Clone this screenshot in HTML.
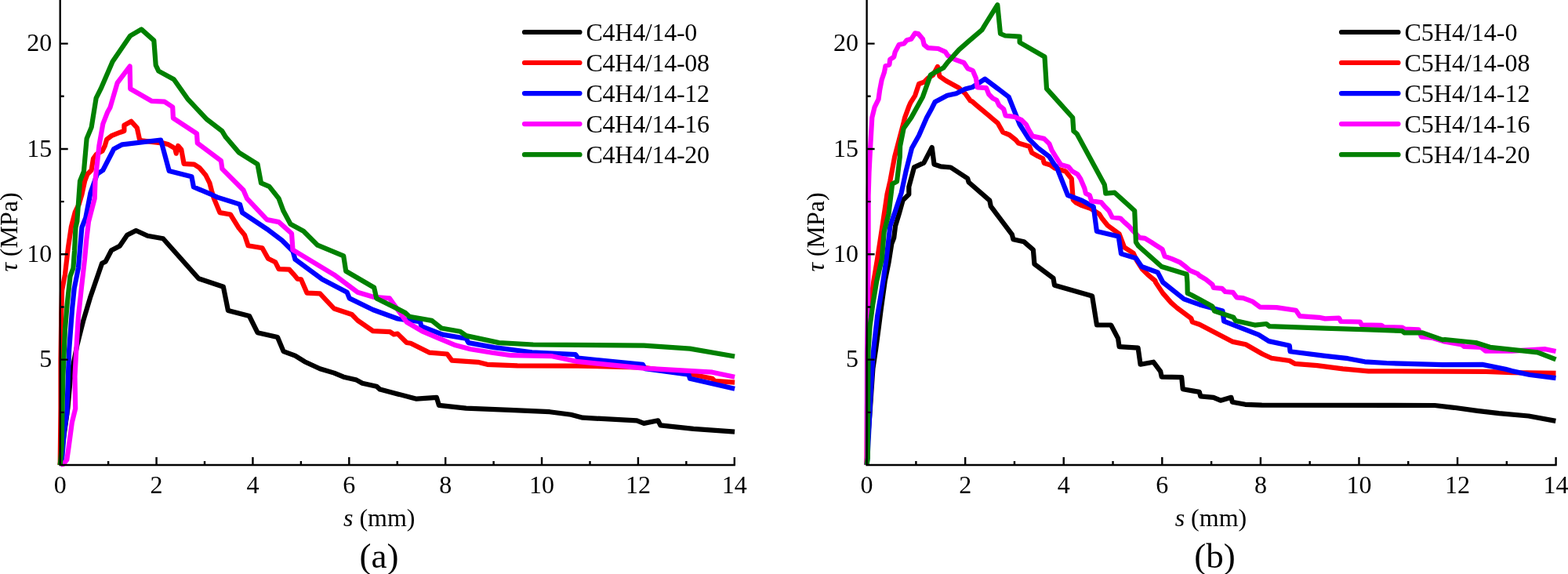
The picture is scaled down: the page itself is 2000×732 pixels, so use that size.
<!DOCTYPE html>
<html><head><meta charset="utf-8"><title>Bond stress-slip curves</title>
<style>
html,body{margin:0;padding:0;background:#fff;}
body{width:2000px;height:732px;overflow:hidden;}
svg{display:block;}
.t{font-family:'Liberation Serif','Times New Roman',serif;font-size:32px;fill:#000;}
.p{font-family:'Liberation Serif','Times New Roman',serif;font-size:45px;fill:#000;}
</style></head>
<body>
<svg width="2000" height="732" viewBox="0 0 2000 732">
<rect width="2000" height="732" fill="#fff"/>
<polyline points="76.7,593.0 80.9,560.0 86.5,520.0 89.7,483.7 98.4,440.0 106.1,409.4 115.1,379.3 130.1,335.7 134.6,333.6 142.1,319.2 152.7,313.8 162.2,299.8 173.5,294.0 188.3,300.8 208.0,304.2 253.4,355.3 284.9,365.8 290.9,395.9 318.0,403.0 328.5,424.2 354.0,430.0 361.6,448.1 376.5,453.6 388.6,461.2 408.1,470.2 426.1,475.6 438.2,480.7 454.7,484.6 462.2,488.8 480.2,492.7 484.7,496.6 504.3,501.7 531.3,508.7 556.9,506.9 559.9,516.8 594.5,520.7 650.0,522.8 701.1,525.2 728.2,528.8 743.2,532.7 812.3,536.3 821.3,539.9 839.4,536.3 842.4,542.3 884.5,546.8 937.1,550.7" fill="none" stroke="#000000" stroke-width="6.2" stroke-linejoin="round" stroke-linecap="butt"/>
<polyline points="76.7,593.0 77.5,520.0 77.5,460.0 78.3,400.0 79.1,370.5 83.0,349.7 86.9,316.0 90.9,289.0 95.8,270.3 100.7,260.5 104.4,248.2 108.1,231.0 111.6,222.0 116.6,217.0 119.0,202.3 123.1,196.6 130.5,192.5 133.8,185.9 136.2,177.7 142.8,172.8 153.4,168.7 158.4,167.0 158.4,159.7 167.4,154.8 174.8,163.0 178.0,177.7 180.5,179.3 208.4,182.6 214.9,184.3 223.1,189.2 224.8,195.7 227.2,185.9 231.3,190.8 234.6,208.9 247.7,209.7 254.3,213.8 262.5,223.6 267.4,233.4 270.0,243.3 272.9,253.1 280.4,271.1 293.9,273.5 304.5,290.6 312.0,299.7 316.5,313.2 334.5,316.2 342.0,329.7 351.1,334.2 355.6,343.2 369.0,343.7 375.0,350.3 379.5,355.7 384.0,356.3 391.6,373.7 408.1,374.3 426.1,393.5 448.7,401.0 456.2,408.6 475.7,422.1 497.4,423.1 502.3,426.4 507.2,425.6 518.7,437.0 523.8,437.7 547.9,449.7 570.4,451.5 576.4,459.7 609.5,461.8 621.5,464.8 660.0,466.3 737.2,466.6 821.3,468.7 878.5,476.8 908.5,482.8 911.5,485.8 937.1,487.6" fill="none" stroke="#FF0000" stroke-width="6.2" stroke-linejoin="round" stroke-linecap="butt"/>
<polyline points="76.7,593.0 78.7,590.8 82.0,549.3 85.3,527.4 86.9,480.0 88.2,445.8 92.1,393.9 94.7,368.0 99.9,342.0 104.4,290.0 109.3,277.7 115.5,245.7 123.9,222.0 131.3,217.0 145.2,190.0 155.9,184.3 205.1,178.5 215.7,217.9 244.4,225.2 246.9,238.4 270.0,248.2 277.4,251.6 306.0,260.6 309.0,271.1 340.5,292.1 360.0,306.7 373.5,320.2 376.5,330.8 411.1,356.3 442.7,372.8 445.7,380.4 475.7,395.0 507.3,406.5 535.9,410.1 537.4,416.1 564.4,426.6 594.5,431.7 597.5,437.1 630.5,443.1 678.5,449.3 734.2,452.1 737.2,456.7 819.8,464.8 822.8,470.2 878.5,477.7 880.0,482.8 937.1,495.7" fill="none" stroke="#0000FF" stroke-width="6.2" stroke-linejoin="round" stroke-linecap="butt"/>
<polyline points="77.5,592.4 80.9,591.9 85.3,586.4 87.5,571.1 91.9,538.4 96.2,520.9 95.5,480.0 97.3,445.8 99.9,404.3 103.8,367.9 108.0,331.0 110.3,305.6 113.0,282.6 120.7,253.1 121.5,230.2 123.9,208.9 126.4,185.9 131.3,158.0 137.0,143.3 140.5,137.0 149.7,105.7 165.6,84.6 166.2,113.2 193.2,128.8 209.8,129.7 220.2,136.5 220.9,150.7 251.0,170.3 251.8,182.6 281.9,204.9 283.4,215.4 310.5,242.5 315.0,253.1 340.5,280.1 355.6,283.1 372.0,297.7 373.5,318.7 426.1,350.3 456.2,372.8 477.2,378.9 496.8,380.4 518.7,410.8 538.4,422.3 561.3,432.1 581.0,440.3 600.0,445.2 627.5,449.7 652.0,453.2 704.1,454.2 737.2,461.2 821.3,469.6 908.5,474.7 937.1,480.7" fill="none" stroke="#FF00FF" stroke-width="6.2" stroke-linejoin="round" stroke-linecap="butt"/>
<polyline points="76.7,593.0 78.7,571.0 79.8,505.6 80.4,480.0 83.0,419.9 85.6,388.7 89.5,352.3 93.4,342.0 95.0,320.0 96.5,290.0 98.3,282.6 102.0,231.0 106.9,218.7 110.6,176.9 116.7,162.1 122.6,125.2 128.6,113.2 143.6,78.6 166.2,45.6 180.3,37.4 196.3,51.6 198.7,83.1 202.3,90.6 221.8,101.2 239.8,126.7 263.9,152.3 283.4,167.3 287.9,174.8 304.5,194.3 328.5,209.4 333.0,233.4 343.5,237.9 355.6,253.1 361.5,269.1 370.5,285.7 387.1,294.7 405.1,312.7 438.2,326.3 441.2,345.8 477.2,366.8 480.2,380.4 516.3,398.4 522.3,403.8 550.9,408.9 562.9,418.5 587.0,422.7 594.5,428.1 636.6,437.1 680.1,439.5 821.3,440.7 880.0,444.6 937.1,454.5" fill="none" stroke="#008000" stroke-width="6.2" stroke-linejoin="round" stroke-linecap="butt"/>
<path d="M76.7,0 V594.2 M75.5,593.0 H937.9 M138.14,593.0 V588.0 M199.57,593.0 V583.0 M261.01,593.0 V588.0 M322.44,593.0 V583.0 M383.88,593.0 V588.0 M445.31,593.0 V583.0 M506.75,593.0 V588.0 M568.19,593.0 V583.0 M629.62,593.0 V588.0 M691.06,593.0 V583.0 M752.49,593.0 V588.0 M813.93,593.0 V583.0 M875.36,593.0 V588.0 M936.80,593.0 V583.0 M76.7,525.83 H81.7 M76.7,458.65 H86.7 M76.7,391.48 H81.7 M76.7,324.30 H86.7 M76.7,257.12 H81.7 M76.7,189.95 H86.7 M76.7,122.77 H81.7 M76.7,55.60 H86.7" fill="none" stroke="#000" stroke-width="2.4"/>
<text x="76.7" y="629" text-anchor="middle" class="t">0</text>
<text x="199.6" y="629" text-anchor="middle" class="t">2</text>
<text x="322.4" y="629" text-anchor="middle" class="t">4</text>
<text x="445.3" y="629" text-anchor="middle" class="t">6</text>
<text x="568.2" y="629" text-anchor="middle" class="t">8</text>
<text x="691.1" y="629" text-anchor="middle" class="t">10</text>
<text x="813.9" y="629" text-anchor="middle" class="t">12</text>
<text x="936.8" y="629" text-anchor="middle" class="t">14</text>
<text x="66.2" y="468.2" text-anchor="end" class="t">5</text>
<text x="66.2" y="333.9" text-anchor="end" class="t">10</text>
<text x="66.2" y="199.5" text-anchor="end" class="t">15</text>
<text x="66.2" y="65.2" text-anchor="end" class="t">20</text>
<text x="483.7" y="671" text-anchor="middle" class="t"><tspan font-style="italic">s</tspan> (mm)</text>
<text transform="translate(22.2,296) rotate(-90)" text-anchor="middle" class="t"><tspan font-style="italic">τ</tspan> (MPa)</text>
<text x="483.4" y="723.5" text-anchor="middle" class="p">(a)</text>
<line x1="669" y1="41.0" x2="739.5" y2="41.0" stroke="#000000" stroke-width="6.2" stroke-linecap="round"/>
<text x="747.5" y="52.2" class="t" letter-spacing="-0.27">C4H4/14-0</text>
<line x1="669" y1="80.0" x2="739.5" y2="80.0" stroke="#FF0000" stroke-width="6.2" stroke-linecap="round"/>
<text x="747.5" y="91.2" class="t" letter-spacing="-0.27">C4H4/14-08</text>
<line x1="669" y1="119.1" x2="739.5" y2="119.1" stroke="#0000FF" stroke-width="6.2" stroke-linecap="round"/>
<text x="747.5" y="130.3" class="t" letter-spacing="-0.27">C4H4/14-12</text>
<line x1="669" y1="158.1" x2="739.5" y2="158.1" stroke="#FF00FF" stroke-width="6.2" stroke-linecap="round"/>
<text x="747.5" y="169.3" class="t" letter-spacing="-0.27">C4H4/14-16</text>
<line x1="669" y1="197.2" x2="739.5" y2="197.2" stroke="#008000" stroke-width="6.2" stroke-linecap="round"/>
<text x="747.5" y="208.4" class="t" letter-spacing="-0.27">C4H4/14-20</text>
<polyline points="1105.6,593.0 1107.0,560.0 1110.0,520.0 1113.4,470.0 1117.2,444.7 1121.0,416.0 1123.9,393.1 1128.7,358.7 1133.5,335.0 1137.3,310.9 1140.2,303.3 1142.1,288.0 1146.8,272.7 1151.6,255.4 1159.3,247.8 1159.3,238.2 1166.0,213.4 1178.4,207.6 1188.7,187.9 1191.5,209.5 1200.0,212.4 1212.7,213.5 1234.1,227.5 1235.7,232.5 1262.3,255.6 1263.8,263.1 1290.9,299.2 1292.4,305.2 1305.9,308.2 1317.9,318.7 1319.4,336.8 1343.5,354.8 1345.0,363.8 1393.1,377.4 1399.0,414.5 1417.1,414.5 1426.1,431.6 1427.6,442.1 1451.6,443.6 1454.6,464.7 1471.2,461.7 1480.2,473.7 1481.7,480.6 1507.2,481.2 1508.7,496.3 1529.8,499.9 1531.3,505.3 1547.8,506.8 1556.8,510.7 1570.4,506.8 1571.9,512.8 1588.4,515.8 1609.4,516.7 1830.0,517.0 1854.6,519.8 1884.1,523.9 1912.0,527.2 1949.7,530.5 1984.3,536.9" fill="none" stroke="#000000" stroke-width="6.2" stroke-linejoin="round" stroke-linecap="butt"/>
<polyline points="1105.6,593.0 1106.0,520.0 1107.6,416.0 1110.5,387.4 1114.3,358.7 1119.1,330.0 1125.8,286.0 1131.5,247.8 1135.4,230.6 1141.1,200.0 1145.1,184.9 1152.6,156.3 1154.1,150.0 1159.0,136.6 1161.5,130.8 1167.2,121.8 1172.1,107.0 1178.7,104.6 1183.6,99.7 1190.2,95.6 1195.9,84.9 1198.4,97.2 1206.6,103.0 1223.0,112.0 1231.1,119.3 1237.7,128.4 1240.0,129.3 1245.7,134.3 1261.3,147.4 1272.8,157.2 1279.3,168.7 1287.5,172.0 1295.7,178.5 1299.0,182.6 1313.0,186.7 1316.2,194.9 1323.6,199.0 1330.2,202.3 1331.8,208.0 1338.4,210.0 1340.0,210.7 1345.7,214.6 1359.1,218.4 1366.8,228.0 1368.7,254.7 1372.5,258.5 1380.0,262.1 1391.5,266.2 1402.1,272.8 1406.2,279.3 1412.8,287.5 1427.5,298.2 1434.1,315.4 1445.6,322.8 1449.7,331.8 1457.0,343.3 1463.6,349.8 1473.4,358.0 1474.2,360.4 1483.2,373.9 1493.7,385.9 1501.2,392.5 1519.3,406.1 1520.8,410.6 1530.0,413.8 1572.6,435.9 1589.0,439.2 1610.3,451.5 1621.8,456.7 1644.8,460.0 1651.5,463.8 1680.0,466.2 1712.8,470.3 1745.6,473.3 1840.0,473.6 1895.6,473.9 1928.4,475.2 1984.5,475.9" fill="none" stroke="#FF0000" stroke-width="6.2" stroke-linejoin="round" stroke-linecap="butt"/>
<polyline points="1105.6,593.0 1106.5,584.0 1110.3,507.8 1112.5,470.0 1114.3,445.0 1119.1,402.7 1124.9,368.2 1130.6,330.0 1135.4,288.0 1142.1,268.8 1149.7,245.9 1155.4,219.1 1160.2,200.0 1163.0,189.0 1172.1,172.8 1182.0,150.0 1188.5,138.2 1192.6,130.0 1208.2,121.8 1219.7,119.3 1231.1,113.6 1240.0,111.3 1256.4,100.7 1286.7,123.6 1300.7,158.9 1312.1,176.9 1323.6,188.4 1338.4,199.8 1344.9,210.0 1347.6,212.7 1362.0,249.0 1380.0,255.6 1394.8,263.8 1398.9,294.9 1426.7,301.5 1430.0,323.6 1448.9,329.3 1456.2,340.0 1476.7,347.4 1483.3,360.0 1510.2,381.4 1530.0,388.4 1559.5,396.6 1561.1,409.7 1605.4,426.9 1618.5,435.1 1644.8,440.8 1645.6,448.2 1690.0,453.9 1719.3,457.2 1740.7,461.3 1768.5,463.0 1840.0,465.1 1890.7,464.9 1920.2,470.7 1928.4,473.1 1951.3,478.0 1984.5,482.1" fill="none" stroke="#0000FF" stroke-width="6.2" stroke-linejoin="round" stroke-linecap="butt"/>
<polyline points="1105.6,593.0 1106.0,450.0 1107.6,340.0 1107.6,250.0 1108.5,220.0 1110.0,190.0 1112.3,150.0 1115.6,136.6 1120.5,126.7 1122.1,115.2 1124.6,102.1 1127.9,92.3 1129.5,84.1 1134.4,82.5 1135.2,75.9 1140.2,72.6 1141.8,66.1 1146.7,57.0 1153.3,55.4 1156.6,51.3 1162.3,49.7 1167.2,42.3 1171.3,43.1 1177.0,49.7 1178.7,57.0 1183.6,61.1 1196.7,62.0 1205.7,66.1 1209.0,71.0 1218.0,75.9 1229.5,80.0 1234.4,87.4 1240.8,90.0 1244.9,99.8 1246.6,111.3 1258.0,112.1 1261.3,120.3 1266.2,125.2 1271.1,127.7 1274.4,134.3 1280.2,139.2 1282.6,147.4 1294.1,149.0 1303.1,153.1 1308.9,158.9 1312.1,165.4 1317.0,173.6 1331.8,176.9 1338.4,183.4 1341.6,191.6 1346.6,199.8 1353.1,210.0 1362.9,212.7 1367.7,218.4 1374.4,222.2 1378.2,228.0 1383.3,240.0 1384.9,246.6 1389.8,249.0 1392.3,256.4 1404.6,258.0 1408.7,263.0 1414.4,268.7 1418.5,276.9 1429.2,278.5 1434.1,283.4 1440.7,289.2 1445.6,294.9 1453.8,303.1 1460.3,303.9 1468.5,308.9 1473.4,312.1 1482.5,317.9 1485.7,326.9 1494.8,330.2 1504.6,334.3 1511.1,339.2 1517.7,344.9 1527.5,349.0 1530.0,351.5 1538.2,356.4 1546.4,363.0 1548.0,367.0 1558.7,367.9 1562.8,372.0 1572.6,372.8 1577.5,379.3 1585.7,380.2 1597.2,384.3 1607.0,391.6 1628.4,392.1 1653.0,395.7 1657.9,403.1 1682.5,404.8 1690.0,406.4 1707.9,405.6 1710.3,410.0 1734.9,410.5 1736.6,414.3 1762.0,414.9 1765.2,417.0 1788.2,417.5 1791.5,419.5 1809.5,420.3 1812.8,429.3 1827.5,431.0 1841.5,435.4 1864.4,439.5 1867.7,442.0 1889.0,442.8 1894.8,447.7 1928.4,447.7 1971.0,445.2 1984.5,448.0" fill="none" stroke="#FF00FF" stroke-width="6.2" stroke-linejoin="round" stroke-linecap="butt"/>
<polyline points="1105.6,593.0 1106.8,584.0 1107.4,460.0 1107.6,444.7 1109.6,416.0 1113.4,387.4 1118.2,358.7 1124.9,330.0 1127.7,295.6 1133.5,272.7 1138.2,234.4 1144.0,231.5 1147.8,200.0 1148.1,186.4 1152.6,163.8 1162.3,150.0 1177.0,123.4 1186.9,95.6 1191.0,93.1 1203.3,86.6 1209.0,79.2 1223.0,63.6 1236.1,52.1 1252.5,38.2 1257.4,30.0 1272.3,6.2 1276.0,43.0 1282.1,45.5 1300.6,46.7 1300.6,54.1 1332.5,72.5 1335.0,113.1 1368.2,150.0 1369.4,167.2 1373.5,170.6 1408.8,235.6 1409.5,240.0 1410.3,246.6 1421.8,245.7 1447.2,268.7 1448.9,308.9 1452.1,313.8 1481.6,340.0 1513.6,349.8 1514.4,360.0 1514.7,373.9 1519.3,376.0 1530.0,381.8 1546.4,390.8 1548.9,396.6 1573.4,404.8 1575.9,408.9 1600.5,414.6 1615.2,413.0 1619.3,416.2 1690.0,418.7 1745.6,420.3 1788.2,422.0 1791.5,424.4 1814.4,424.4 1840.0,433.4 1843.1,433.0 1882.5,437.0 1900.5,442.8 1961.1,449.3 1984.5,458.4" fill="none" stroke="#008000" stroke-width="6.2" stroke-linejoin="round" stroke-linecap="butt"/>
<path d="M1105.6,0 V594.2 M1104.4,593.0 H1985.7 M1168.39,593.0 V588.0 M1231.17,593.0 V583.0 M1293.96,593.0 V588.0 M1356.74,593.0 V583.0 M1419.53,593.0 V588.0 M1482.31,593.0 V583.0 M1545.10,593.0 V588.0 M1607.89,593.0 V583.0 M1670.67,593.0 V588.0 M1733.46,593.0 V583.0 M1796.24,593.0 V588.0 M1859.03,593.0 V583.0 M1921.81,593.0 V588.0 M1984.60,593.0 V583.0 M1105.6,525.83 H1110.6 M1105.6,458.65 H1115.6 M1105.6,391.48 H1110.6 M1105.6,324.30 H1115.6 M1105.6,257.12 H1110.6 M1105.6,189.95 H1115.6 M1105.6,122.77 H1110.6 M1105.6,55.60 H1115.6" fill="none" stroke="#000" stroke-width="2.4"/>
<text x="1105.6" y="629" text-anchor="middle" class="t">0</text>
<text x="1231.2" y="629" text-anchor="middle" class="t">2</text>
<text x="1356.7" y="629" text-anchor="middle" class="t">4</text>
<text x="1482.3" y="629" text-anchor="middle" class="t">6</text>
<text x="1607.9" y="629" text-anchor="middle" class="t">8</text>
<text x="1733.5" y="629" text-anchor="middle" class="t">10</text>
<text x="1859.0" y="629" text-anchor="middle" class="t">12</text>
<text x="1984.6" y="629" text-anchor="middle" class="t">14</text>
<text x="1095.1" y="468.2" text-anchor="end" class="t">5</text>
<text x="1095.1" y="333.9" text-anchor="end" class="t">10</text>
<text x="1095.1" y="199.5" text-anchor="end" class="t">15</text>
<text x="1095.1" y="65.2" text-anchor="end" class="t">20</text>
<text x="1544.4" y="671" text-anchor="middle" class="t"><tspan font-style="italic">s</tspan> (mm)</text>
<text transform="translate(1051.1,296) rotate(-90)" text-anchor="middle" class="t"><tspan font-style="italic">τ</tspan> (MPa)</text>
<text x="1549.4" y="723.5" text-anchor="middle" class="p">(b)</text>
<line x1="1711" y1="41.0" x2="1783.5" y2="41.0" stroke="#000000" stroke-width="6.2" stroke-linecap="round"/>
<text x="1791.5" y="52.2" class="t" letter-spacing="0">C5H4/14-0</text>
<line x1="1711" y1="80.0" x2="1783.5" y2="80.0" stroke="#FF0000" stroke-width="6.2" stroke-linecap="round"/>
<text x="1791.5" y="91.2" class="t" letter-spacing="0">C5H4/14-08</text>
<line x1="1711" y1="119.1" x2="1783.5" y2="119.1" stroke="#0000FF" stroke-width="6.2" stroke-linecap="round"/>
<text x="1791.5" y="130.3" class="t" letter-spacing="0">C5H4/14-12</text>
<line x1="1711" y1="158.1" x2="1783.5" y2="158.1" stroke="#FF00FF" stroke-width="6.2" stroke-linecap="round"/>
<text x="1791.5" y="169.3" class="t" letter-spacing="0">C5H4/14-16</text>
<line x1="1711" y1="197.2" x2="1783.5" y2="197.2" stroke="#008000" stroke-width="6.2" stroke-linecap="round"/>
<text x="1791.5" y="208.4" class="t" letter-spacing="0">C5H4/14-20</text>
</svg>
</body></html>
